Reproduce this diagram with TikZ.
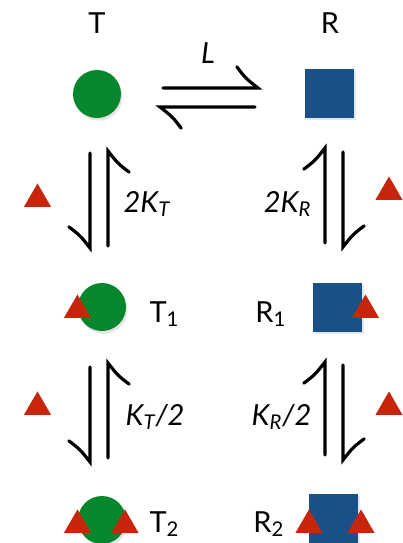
\documentclass[tikz,border=0pt]{standalone}
\usepackage{fontspec}
\setmainfont{Lato}
\usetikzlibrary{calc,shapes.geometric,shadows}

\definecolor{tgreen}{HTML}{06872D}
\definecolor{rblue}{HTML}{1A5088}
\definecolor{ligred}{HTML}{C8260A}

\begin{document}
\begin{tikzpicture}[x=0.5pt,y=-0.5pt,line width=1.6pt,
  rxn/.style={line cap=round},
  shade/.style={drop shadow={opacity=0.2,shadow xshift=0.8pt,shadow yshift=-1.4pt}},
  tstate/.style={circle,fill=tgreen,inner sep=0,minimum size=24pt,shade},
  rstate/.style={rectangle,fill=rblue,inner sep=0,minimum size=24.5pt,shade},
  lig/.style={regular polygon,regular polygon sides=3,fill=ligred,inner sep=0,minimum size=15.6pt},
  lbl/.style={inner sep=0,font=\fontsize{14.5}{17}\selectfont},
  rate/.style={inner sep=0,font=\fontsize{14.5}{17}\selectfont\itshape}]
\useasboundingbox (0,0) rectangle (403,543);
% ---------- states ----------
\node[tstate] (T)  at (97,94) {};
\node[rstate] (R)  at (330,93) {};
\node[tstate] (T1) at (102,307) {};
\node[rstate] (R1) at (338,307) {};
\node[tstate] (T2) at (102,520) {};
\node[rstate] (R2) at (334,518) {};
% ---------- ligands ----------
\foreach \n/\x/\y in {l1/37.5/199, l2/389/192, l3/77.5/310, l4/365.5/310,
  l5/37.5/407, l6/389/407, l7/77.5/525, l8/125/525, l9/309/525, l10/361/525}{
  \node[lig] (\n) at (\x,\y) {};}
% ---------- labels ----------
\node[lbl,anchor=base] (tT) at (97,33) {T};
\node[lbl,anchor=base] (tR) at (330,33) {R};
\node[lbl,anchor=base west] (tT1) at (148,322) {T\textsubscript{1}};
\node[lbl,anchor=base east] (tR1) at (288,322) {R\textsubscript{1}};
\node[lbl,anchor=base west] (tT2) at (148,532) {T\textsubscript{2}};
\node[lbl,anchor=base east] (tR2) at (286,532) {R\textsubscript{2}};
\node[rate,anchor=base] (kL) at (208,63) {L};
\node[rate,anchor=base west] (kT) at (122,212) {2K\textsubscript{T}};
\node[rate,anchor=base east] (kR) at (313,212) {2K\textsubscript{R}};
\node[rate,anchor=base west] (kT2) at (124,425) {K\textsubscript{T}/2};
\node[rate,anchor=base east] (kR2) at (313,425) {K\textsubscript{R}/2};
% ---------- harpoon ends ----------
\coordinate (a1) at (163,88);  \coordinate (b1) at (258,88);
\coordinate (a2) at (255,107); \coordinate (b2) at (160,107);
\coordinate (a3) at (90,153);  \coordinate (b3) at (90,248);
\coordinate (a4) at (108,246); \coordinate (b4) at (108,151);
\coordinate (a5) at (325,243); \coordinate (b5) at (325,148);
\coordinate (a6) at (343,152); \coordinate (b6) at (343,247);
\coordinate (a7) at (90,367);  \coordinate (b7) at (90,462);
\coordinate (a8) at (108,458); \coordinate (b8) at (108,363);
\coordinate (a9) at (325,455); \coordinate (b9) at (325,362);
\coordinate (a10) at (343,365); \coordinate (b10) at (343,460);
% ---------- harpoons ----------
\foreach \i/\r in {1/-45,2/-45,3/45,4/45,5/-45,6/-45,7/45,8/45,9/-45,10/-45}{
  \pgfmathsetmacro{\rc}{0.85*\r}
  \draw[rxn] (a\i) -- (b\i) .. controls ($(b\i)!8pt!\rc:(a\i)$) .. ($(b\i)!15pt!\r:(a\i)$);}
\end{tikzpicture}
\end{document}
